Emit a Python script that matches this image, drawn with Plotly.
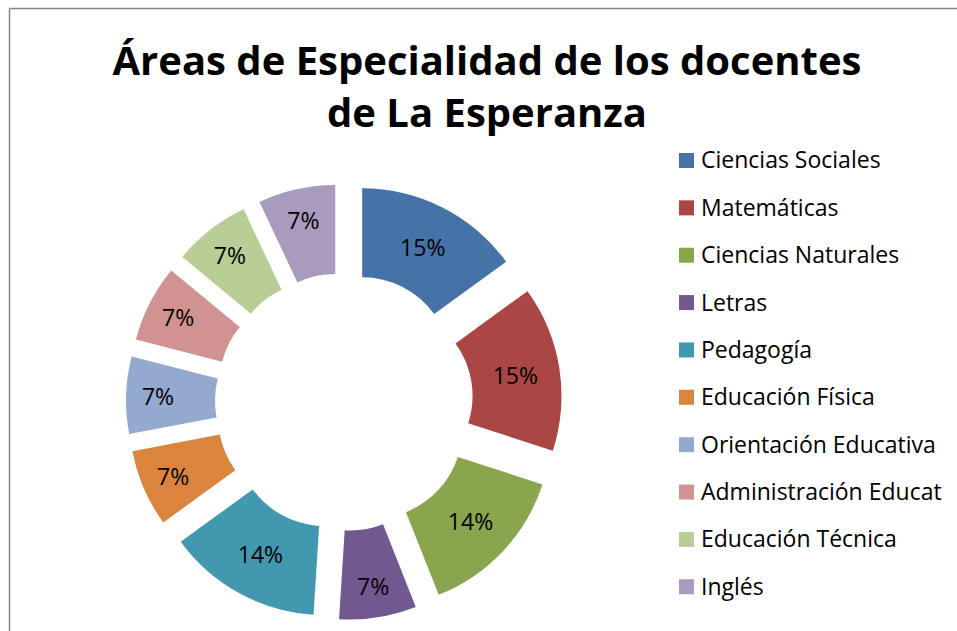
import plotly.graph_objects as go

# Specialty areas of the teaching staff (share of teachers, %)
categories = [
    "Ciencias Sociales", "Matemáticas", "Ciencias Naturales", "Letras",
    "Pedagogía", "Educación Física", "Orientación Educativa",
    "Administración Educat", "Educación Técnica", "Inglés",
]
shares = [15, 15, 14, 7, 14, 7, 7, 7, 7, 7]
colors = [
    "#4572A7", "#AA4643", "#89A54E", "#71588F", "#4198AF",
    "#DB843D", "#93A9CF", "#D19392", "#B9CD96", "#A99BBD",
]

W, H = 957, 631
FONT = "Open Sans, sans-serif"

fig = go.Figure(
    go.Pie(
        labels=categories,
        values=shares,
        sort=False,
        direction="clockwise",
        rotation=0,
        hole=0.5,
        pull=[0.225] * len(shares),
        marker=dict(colors=colors, line=dict(width=0)),
        textinfo="percent",
        textposition="inside",
        insidetextorientation="horizontal",
        textfont=dict(family=FONT, size=23, color="black"),
        showlegend=False,
        domain=dict(x=[126 / W, 562 / W], y=[(H - 620) / H, (H - 184) / H]),
    )
)

# Legend drawn as swatches + labels on the right side
leg_x0, leg_y0, leg_step, sw = 679, 160.5, 47.36, 15
shapes = []
annotations = []
for i, (name, col) in enumerate(zip(categories, colors)):
    cy = leg_y0 + i * leg_step
    shapes.append(dict(
        type="rect", xref="paper", yref="paper",
        x0=leg_x0 / W, x1=(leg_x0 + sw) / W,
        y0=1 - (cy + sw / 2) / H, y1=1 - (cy - sw / 2) / H,
        fillcolor=col, line=dict(width=0),
    ))
    annotations.append(dict(
        text=name, xref="paper", yref="paper",
        x=699 / W, y=1 - (cy - 1) / H, xanchor="left", yanchor="middle",
        showarrow=False, font=dict(family=FONT, size=23, color="black"),
    ))

# Chart-area frame: left and top edges
frame = dict(color="#868686", width=1.5)
shapes.append(dict(type="line", xref="paper", yref="paper",
                   x0=9.5 / W, x1=9.5 / W, y0=0, y1=1 - 8.5 / H, line=frame))
shapes.append(dict(type="line", xref="paper", yref="paper",
                   x0=9.5 / W, x1=1, y0=1 - 8.5 / H, y1=1 - 8.5 / H, line=frame))

fig.update_layout(
    width=W, height=H,
    margin=dict(l=0, r=0, t=0, b=0),
    paper_bgcolor="white", plot_bgcolor="white",
    title=dict(
        text="<b>Áreas de Especialidad de los docentes<br>de La Esperanza</b>",
        x=487 / W, xanchor="center", y=1 - 75 / H, yanchor="top",
        font=dict(family=FONT, size=40, color="black"),
    ),
    shapes=shapes,
    annotations=annotations,
)

fig.write_html("out.html")
